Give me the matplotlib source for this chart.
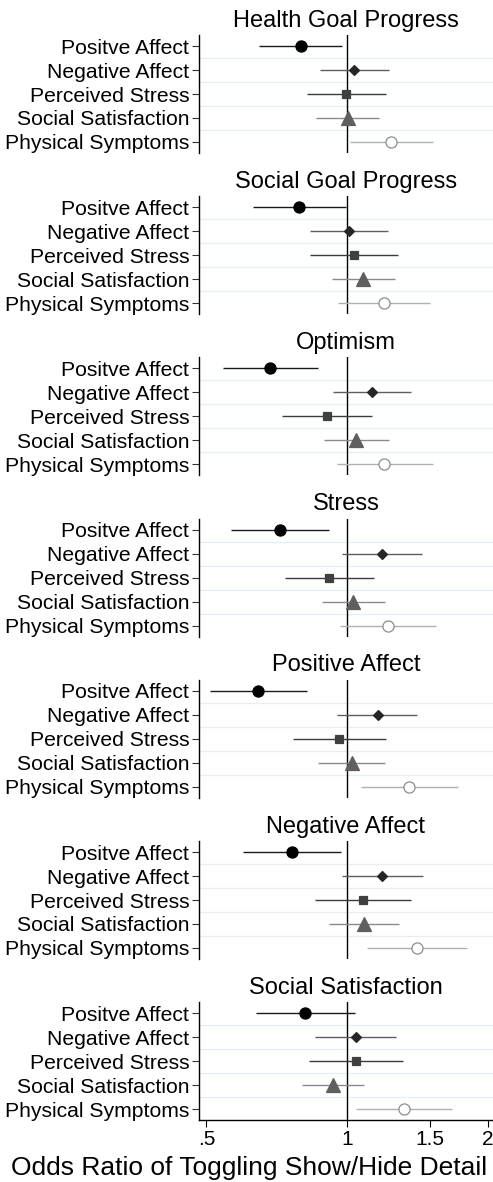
import matplotlib
matplotlib.use("Agg")
import matplotlib.pyplot as plt
from matplotlib.ticker import NullLocator

plt.rcParams["font.family"] = ["Liberation Sans", "DejaVu Sans"]

# outcome panels, top to bottom
panels = [
    "Health Goal Progress",
    "Social Goal Progress",
    "Optimism",
    "Stress",
    "Positive Affect",
    "Negative Affect",
    "Social Satisfaction",
]

predictors = [
    "Positve Affect",
    "Negative Affect",
    "Perceived Stress",
    "Social Satisfaction",
    "Physical Symptoms",
]

# odds ratios per panel (rows follow predictors)
odds = [
    [0.797, 1.035, 0.994, 1.002, 1.241],
    [0.790, 1.007, 1.032, 1.082, 1.198],
    [0.685, 1.129, 0.904, 1.045, 1.199],
    [0.718, 1.186, 0.915, 1.028, 1.223],
    [0.646, 1.161, 0.960, 1.022, 1.356],
    [0.762, 1.188, 1.079, 1.084, 1.409],
    [0.814, 1.044, 1.044, 0.933, 1.320],
]
lower = [
    [0.648, 0.876, 0.821, 0.856, 1.013],
    [0.630, 0.831, 0.831, 0.926, 0.957],
    [0.543, 0.934, 0.725, 0.890, 0.949],
    [0.565, 0.976, 0.735, 0.882, 0.965],
    [0.508, 0.952, 0.765, 0.867, 1.070],
    [0.598, 0.976, 0.852, 0.913, 1.102],
    [0.639, 0.854, 0.830, 0.801, 1.045],
]
upper = [
    [0.977, 1.229, 1.208, 1.170, 1.529],
    [0.994, 1.220, 1.281, 1.266, 1.501],
    [0.867, 1.372, 1.129, 1.226, 1.522],
    [0.913, 1.446, 1.142, 1.205, 1.552],
    [0.820, 1.413, 1.209, 1.204, 1.723],
    [0.970, 1.451, 1.372, 1.291, 1.806],
    [1.037, 1.272, 1.313, 1.087, 1.673],
]

xticks = [0.5, 1, 1.5, 2]
xtick_labels = [".5", "1", "1.5", "2"]

# marker style for each predictor row
styles = [
    dict(marker="o", ms=8, mfc="black", mec="black", line="#1a1a1a"),
    dict(marker="D", ms=5.4, mfc="#262626", mec="#262626", line="#5e5e5e"),
    dict(marker="s", ms=5.5, mfc="#404040", mec="#404040", line="#3c3c3c"),
    dict(marker="^", ms=9.5, mfc="#5f5f5f", mec="#5f5f5f", line="#8a8a8a"),
    dict(marker="o", ms=8, mfc="white", mec="#8c8c8c", line="#b0b0b0"),
]

W, H = 493, 1182
fig = plt.figure(figsize=(W / 100, H / 100), dpi=100)

left, right = 199, 493
panel_h = 118
for k, title in enumerate(panels):
    top = 35 + 161.2 * k
    ax = fig.add_axes([left / W, 1 - (top + panel_h) / H, (right - left) / W, panel_h / H])
    ax.set_xscale("log", base=2)
    ax.set_xlim(0.482, 2.05)
    ax.set_ylim(5.46, 0.54)

    for g in [1.5, 2.5, 3.5, 4.5]:
        ax.axhline(g, color="#e6eef1", lw=0.9, zorder=0)
    ax.axvline(1, color="black", lw=1.0, zorder=1)

    for i, st in enumerate(styles):
        y = i + 1
        ax.hlines(y, lower[k][i], upper[k][i], color=st["line"], lw=1.0, zorder=2)
        ax.plot(odds[k][i], y, marker=st["marker"], ms=st["ms"], mfc=st["mfc"],
                mec=st["mec"], mew=0.9, ls="none", zorder=3)

    ax.set_yticks(range(1, 6))
    ax.set_yticklabels(predictors, fontsize=15.2)
    ax.tick_params(axis="y", length=5, width=0.8, pad=2, color="#333333")
    ax.set_title(title, fontsize=17, pad=6)

    for side in ["top", "right"]:
        ax.spines[side].set_visible(False)
    ax.spines["left"].set_linewidth(1.0)
    ax.xaxis.set_minor_locator(NullLocator())

    if k == len(panels) - 1:
        ax.set_xticks(xticks)
        ax.set_xticklabels(xtick_labels, fontsize=15)
        ax.tick_params(axis="x", length=5, width=0.8, pad=2)
        ax.spines["bottom"].set_linewidth(1.0)
    else:
        ax.set_xticks([])
        ax.spines["bottom"].set_visible(False)

# shared axis title, centred on the whole figure
fig.text(249 / W, 1 - 1168 / H, "Odds Ratio of Toggling Show/Hide Detail",
         fontsize=19, ha="center", va="center")

fig.savefig("out.png", dpi=100)
